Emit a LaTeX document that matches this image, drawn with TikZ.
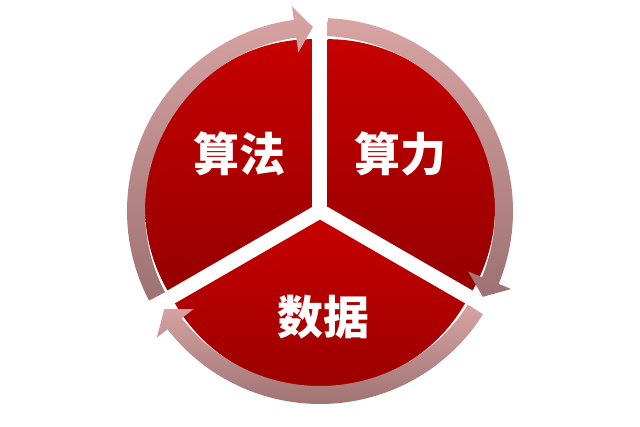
\documentclass[tikz,border=0pt]{standalone}
\usepackage{fontspec}
\newfontfamily\cjk{Noto Sans CJK SC}
\begin{document}
\begin{tikzpicture}[x=1pt,y=1pt,
  sector/.style={top color=secTop,bottom color=secBot,draw=none},
  arrowband/.style={top color=arrTop,bottom color=arrBot,draw=none},
  label/.style={text=white,font=\cjk\bfseries\fontsize{46}{46}\selectfont,inner sep=0pt}]
\definecolor{secTop}{RGB}{198,0,0}
\definecolor{secBot}{RGB}{150,0,0}
\definecolor{arrTop}{RGB}{216,164,164}
\definecolor{arrBot}{RGB}{158,114,114}
\useasboundingbox (0,0) rectangle (640,426);
\fill[white] (0,0) rectangle (640,426);
\begin{scope}[shift={(320,215)}]
  % sectors
  \shade[sector] (150:8.66) -- ++(90:167.5) arc[start angle=90,end angle=210,radius=167.5] -- cycle;
  \shade[sector] (30:8.66) -- ++(-30:167.5) arc[start angle=-30,end angle=90,radius=167.5] -- cycle;
  \shade[sector] (270:8.66) -- ++(210:167.5) arc[start angle=210,end angle=330,radius=167.5] -- cycle;
  % arrows
  \foreach \s/\b/\t in {207.66/97.8/92.2, 87.66/-22.2/-27.8, -32.34/-142.2/-147.8}{
    \shade[arrowband] (\s:193) arc[start angle=\s,end angle=\b,radius=193]
      -- (\b:206.5) -- (\t:184) -- (\b:160) -- (\b:175)
      arc[start angle=\b,end angle=\s,radius=175] -- cycle;
  }
\end{scope}
\node[label] (alg) at (239,272) {算法};
\node[label] (cmp) at (400,272) {算力};
\node[label] (dat) at (323,109) {数据};
\end{tikzpicture}
\end{document}
